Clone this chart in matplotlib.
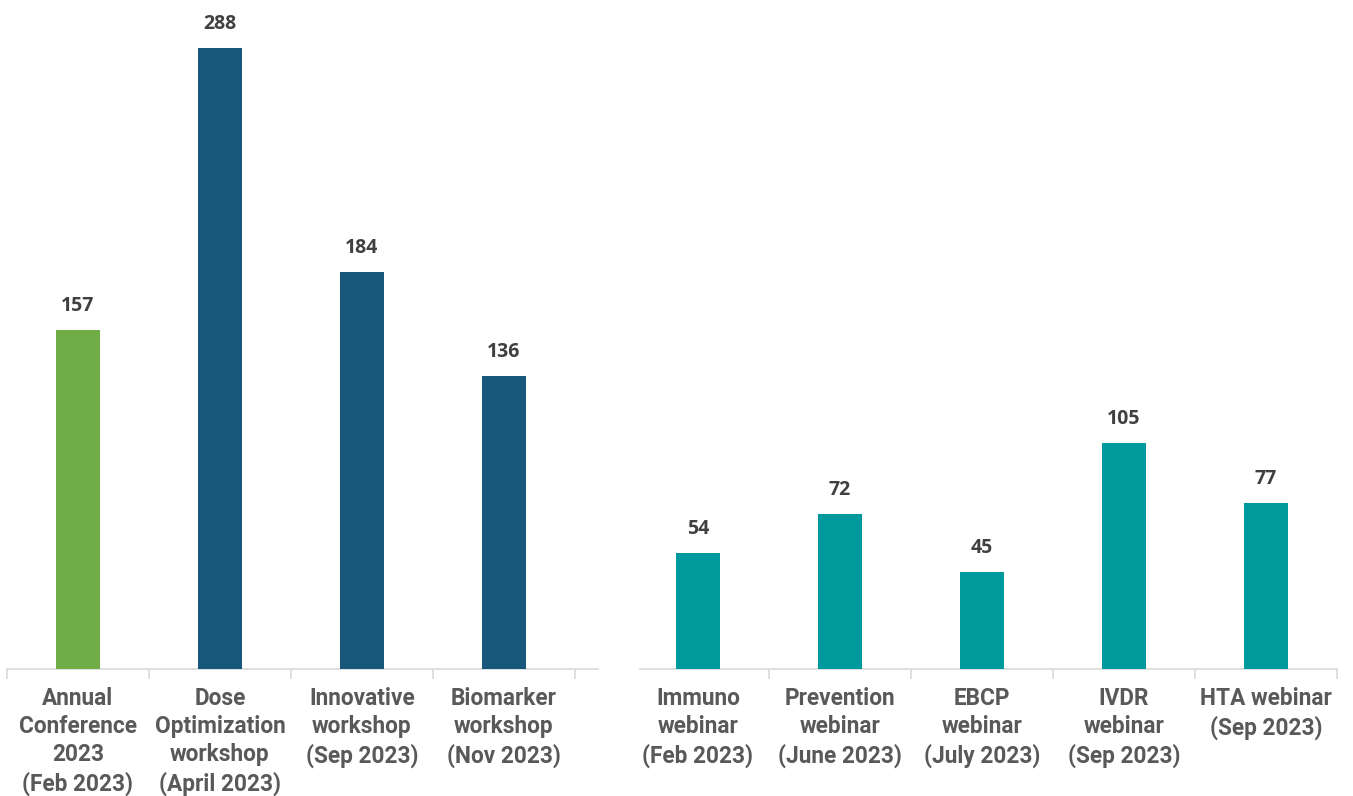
import matplotlib
matplotlib.use("Agg")
import matplotlib.pyplot as plt
import numpy as np

left_labels = ["Annual\nConference\n2023\n(Feb 2023)", "Dose\nOptimization\nworkshop\n(April 2023)",
               "Innovative\nworkshop\n(Sep 2023)", "Biomarker\nworkshop\n(Nov 2023)"]
left_values = [157, 288, 184, 136]
left_colors = ["#70AD47", "#17577A", "#17577A", "#17577A"]

right_labels = ["Immuno\nwebinar\n(Feb 2023)", "Prevention\nwebinar\n(June 2023)", "EBCP\nwebinar\n(July 2023)",
                "IVDR\nwebinar\n(Sep 2023)", "HTA webinar\n(Sep 2023)"]
right_values = [54, 72, 45, 105, 77]
right_color = "#00999C"

W, H = 1353, 796
fig = plt.figure(figsize=(W/100, H/100), dpi=100)
fig.patch.set_facecolor("white")

base_y = 669
px_per_unit = 621/288
ytop = 300
ax_bottom = (H - base_y)/H
ax_height = ytop*px_per_unit/H

LABEL_FONT = ["Roboto", "DejaVu Sans"]

def setup(ax, labels, values, colors, xmin, xmax):
    x = np.arange(len(values))
    ax.bar(x, values, width=0.31, color=colors, zorder=3)
    ax.set_ylim(0, ytop)
    ax.set_xlim(xmin, xmax)
    for s in ["top", "right", "left"]:
        ax.spines[s].set_visible(False)
    ax.spines["bottom"].set_color("#D9D9D9")
    ax.spines["bottom"].set_linewidth(1.2)
    ax.set_yticks([])
    bounds = np.arange(len(values)+1) - 0.5
    bounds = bounds[(bounds >= xmin - 1e-9) & (bounds <= xmax + 1e-9)]
    ax.set_xticks(bounds)
    ax.set_xticklabels([])
    ax.tick_params(axis="x", length=7, color="#D9D9D9", width=1.2)
    for xi, lab in zip(x, labels):
        ax.text(xi, -8.5, lab, ha="center", va="top", fontsize=16.3, fontweight="bold",
                family=LABEL_FONT, color="#595959", linespacing=1.28, clip_on=False)
    for xi, v in zip(x, values):
        ax.text(xi, v + 6.5, str(v), ha="center", va="bottom", fontsize=14, fontweight="bold",
                family="Open Sans", color="#404040", clip_on=False)

l0, l1 = 7, 598
axL = fig.add_axes([l0/W, ax_bottom, (l1-l0)/W, ax_height])
setup(axL, left_labels, left_values, left_colors, -0.5, -0.5 + (l1-l0)/142)

r0, r1 = 640, 1337
axR = fig.add_axes([r0/W, ax_bottom, (r1-r0)/W, ax_height])
setup(axR, right_labels, right_values, [right_color]*5, 4.5 - (r1-r0)/142, 4.5)

fig.savefig("out.png", dpi=100, facecolor="white")
